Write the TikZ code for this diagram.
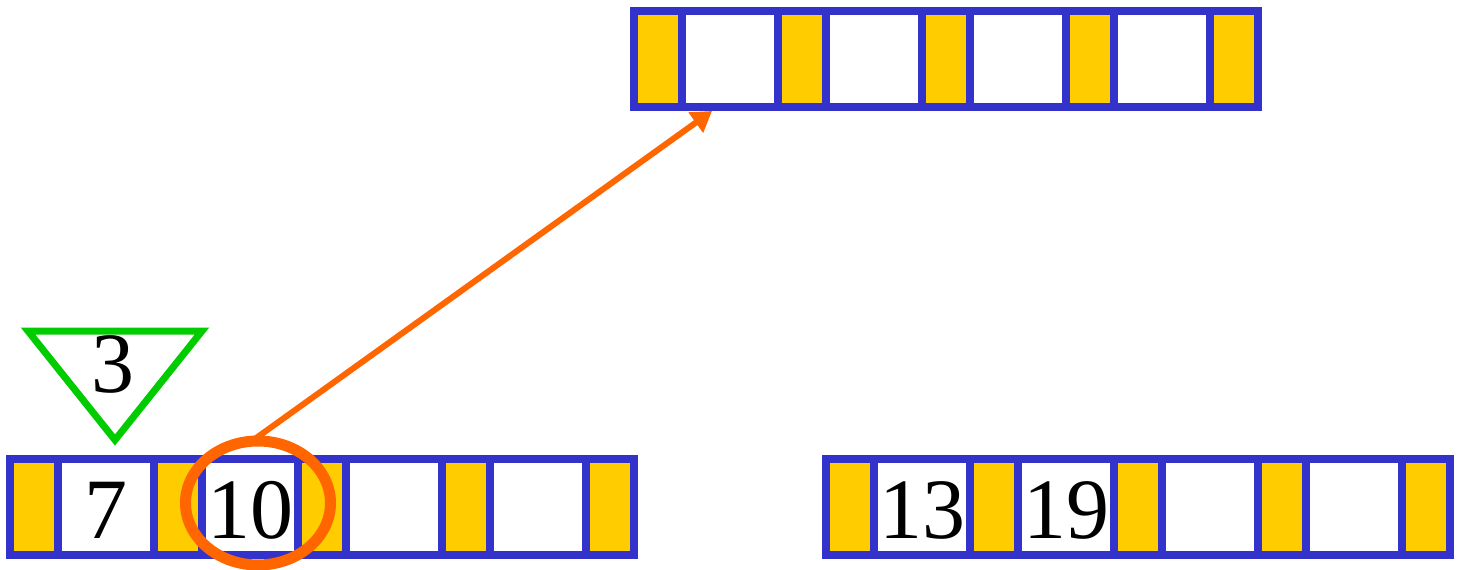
\documentclass[tikz,border=0pt]{standalone}
\usepackage{fontspec}
\newfontfamily\numfont{Liberation Serif}
\usetikzlibrary{arrows.meta,shapes.geometric}
\definecolor{arrblue}{HTML}{3333CC}
\definecolor{celly}{HTML}{FFCC00}
\definecolor{ringor}{HTML}{FF6600}
\definecolor{trigreen}{HTML}{00CC00}
\tikzset{
  arrframe/.style={fill=arrblue, draw=none, inner sep=0pt, outer sep=0pt, minimum width=632pt, minimum height=104pt, anchor=north west},
  ycell/.style={fill=celly, draw=none, inner sep=0pt, outer sep=0pt, minimum width=40pt, minimum height=88pt},
  wcell/.style={fill=white, draw=none, inner sep=0pt, outer sep=0pt, minimum width=88pt, minimum height=88pt,
    font=\numfont\fontsize{86}{90}\selectfont, text height=62pt, text depth=0pt},
  ring/.style={ellipse, draw=ringor, line width=11pt, minimum width=145pt, minimum height=124pt, inner sep=0pt},
  ptr/.style={draw=ringor, line width=6pt, -{Triangle[length=20pt,width=24pt]}},
  tri/.style={draw=trigreen, line width=7pt, line join=miter},
  bignum/.style={font=\numfont\fontsize{86}{90}\selectfont, inner sep=0pt, anchor=base}
}
\begin{document}
\begin{tikzpicture}[x=1pt,y=-1pt]
\useasboundingbox (0,0) rectangle (1460,570);
% arrays: name / x0 / y0 / labels of the four white cells
\foreach \nm/\xo/\yo/\la/\lb/\lc/\ld in {bl/6/455/7/10//, top/630/7///, br/822/455/13/19//}{
  \node[arrframe] (\nm) at (\xo,\yo) {};
  \pgfmathsetmacro{\yc}{\yo+52}
  \foreach \i in {0,...,4}{
    \pgfmathsetmacro{\xc}{\xo+28+144*\i}
    \node[ycell] (\nm-y\i) at (\xc,\yc) {};
  }
  \foreach \i/\t in {0/\la,1/\lb,2/\lc,3/\ld}{
    \pgfmathsetmacro{\xc}{\xo+100+144*\i}
    \node[wcell] (\nm-w\i) at (\xc,\yc) {\t};
  }
}
% green triangle with 3
\draw[tri] (28,331) -- (202,331) -- (115,440) -- cycle;
\node[bignum] (three) at (113,392) {3};
% orange pointer and ring
\coordinate (ringc) at (258,503);
\coordinate (tip) at (712,111);
\draw[ptr] ([shift={(-6,-62)}]ringc) -- (tip);
\node[ring] (circ) at (ringc) {};
\end{tikzpicture}
\end{document}
